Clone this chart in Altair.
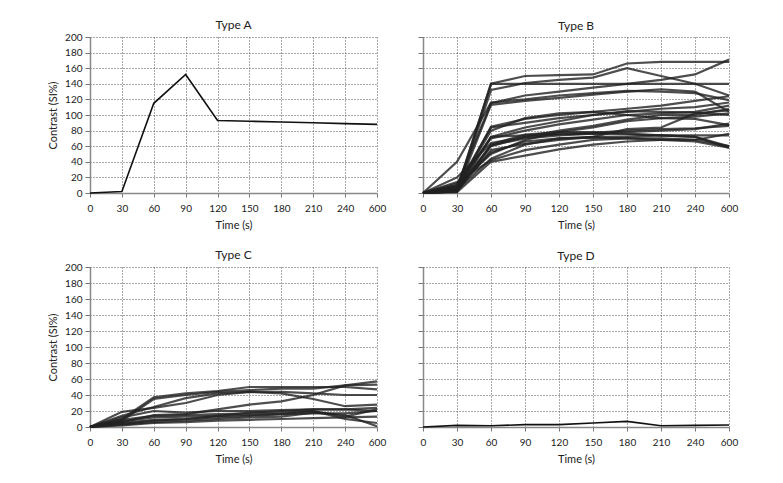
import altair as alt
import pandas as pd

times = ["0", "30", "60", "90", "120", "150", "180", "210", "240", "600"]

type_a = [0, 2, 115, 152, 93, 92, 91, 90, 89, 88]
type_d = [0, 2, 1.5, 3, 3, 5, 7, 1.5, 2, 2.5]

type_b = [
    [0, 3, 140, 150, 151, 152, 166, 168, 168, 168],
    [0, 5, 140, 140, 140, 140, 140, 140, 140, 140],
    [0, 2, 132, 141, 145, 148, 160, 150, 140, 125],
    [0, 10, 115, 125, 130, 135, 140, 145, 152, 171],
    [0, 40, 116, 120, 125, 128, 131, 130, 128, 119],
    [0, 3, 113, 118, 122, 126, 130, 133, 130, 104],
    [0, 4, 85, 95, 100, 104, 108, 112, 118, 124],
    [0, 8, 84, 90, 96, 100, 104, 108, 110, 116],
    [0, 6, 72, 84, 92, 100, 105, 104, 103, 100],
    [0, 12, 70, 80, 88, 94, 100, 102, 104, 112],
    [0, 2, 72, 74, 76, 77, 80, 82, 83, 86],
    [0, 20, 64, 72, 75, 76, 78, 80, 82, 89],
    [0, 5, 62, 75, 78, 78, 76, 74, 72, 60],
    [0, 3, 61, 70, 74, 76, 75, 74, 74, 74],
    [0, 2, 55, 63, 68, 72, 82, 84, 102, 106],
    [0, 8, 52, 66, 70, 72, 72, 74, 72, 58],
    [0, 4, 44, 62, 70, 71, 70, 68, 66, 58],
    [0, 14, 42, 55, 62, 68, 70, 70, 68, 60],
    [0, 1, 40, 48, 56, 62, 66, 68, 68, 76],
    [0, 10, 50, 68, 78, 84, 92, 96, 98, 102],
    [0, 6, 80, 96, 102, 104, 100, 96, 95, 87],
    [0, 2, 60, 72, 80, 86, 94, 100, 100, 108],
]

type_c = [
    [0, 10, 37, 42, 45, 50, 50, 50, 50, 47],
    [0, 8, 35, 40, 44, 46, 48, 48, 52, 53],
    [0, 14, 25, 36, 42, 44, 44, 42, 40, 40],
    [0, 19, 24, 30, 40, 44, 42, 35, 26, 28],
    [0, 6, 15, 16, 22, 28, 32, 40, 52, 57],
    [0, 12, 20, 18, 20, 20, 21, 22, 22, 24],
    [0, 4, 8, 10, 14, 18, 20, 22, 22, 20],
    [0, 9, 14, 15, 16, 17, 18, 20, 13, 22],
    [0, 5, 9, 10, 12, 14, 16, 20, 10, 5],
    [0, 3, 6, 8, 10, 12, 13, 18, 15, 1],
    [0, 7, 12, 13, 14, 15, 16, 17, 17, 20],
    [0, 2, 5, 6, 8, 9, 10, 11, 12, 13],
]

y_ticks = list(range(0, 201, 20))


def to_df(series_list):
    rows = []
    for i, s in enumerate(series_list):
        for t, v in zip(times, s):
            rows.append({"t": t, "v": v, "s": i})
    return pd.DataFrame(rows)


def panel(series_list, title, w, h, show_y, color, opacity, sw, toff):
    df = to_df(series_list)
    return (
        alt.Chart(df, title=alt.TitleParams(title, offset=toff))
        .mark_line(color=color, opacity=opacity, strokeWidth=sw)
        .encode(
            x=alt.X(
                "t:O",
                sort=times,
                scale=alt.Scale(type="point", padding=0),
                axis=alt.Axis(title="Time (s)", labelAngle=0, grid=True,
                              labelPadding=6, titlePadding=6, tickSize=4),
            ),
            y=alt.Y(
                "v:Q",
                scale=alt.Scale(domain=[0, 200], nice=False, zero=True),
                axis=alt.Axis(
                    values=y_ticks,
                    labels=show_y,
                    title="Contrast (SI%)" if show_y else None,
                    tickSize=5,
                    labelPadding=3,
                    titlePadding=6,
                ),
            ),
            detail="s:N",
        )
        .properties(width=w, height=h)
    )


a = panel([type_a], "Type A", 287, 156, True, "#111", 1, 1.6, 0)
b = panel(type_b, "Type B", 306, 156, False, "#222", 0.8, 2.2, 4)
c = panel(type_c, "Type C", 287, 160, True, "#222", 0.8, 2.2, 0)
d = panel([type_d], "Type D", 306, 160, False, "#111", 1, 1.6, 4)

chart = (
    alt.ConcatChart(
        concat=[a, b, c, d],
        columns=2,
        spacing=alt.RowColnumber(row=74, column=46),
        bounds="flush",
    )
    .properties(padding={"left": 39, "top": 11, "right": 5, "bottom": 5})
    .configure_view(stroke=None)
    .configure_axis(
        labelFont="Lato",
        titleFont="Lato",
        labelFontSize=10,
        titleFontSize=11,
        titleFontWeight="normal",
        labelColor="#222",
        titleColor="#222",
        gridColor="#555",
        gridDash=[1, 2],
        gridWidth=1,
        domainColor="#888",
        domainWidth=1.5,
        tickColor="#777",
    )
    .configure_title(font="Lato", fontSize=12, fontWeight="normal", color="#222")
)

chart.save("out.html", embed_options={"renderer": "svg", "actions": False})
